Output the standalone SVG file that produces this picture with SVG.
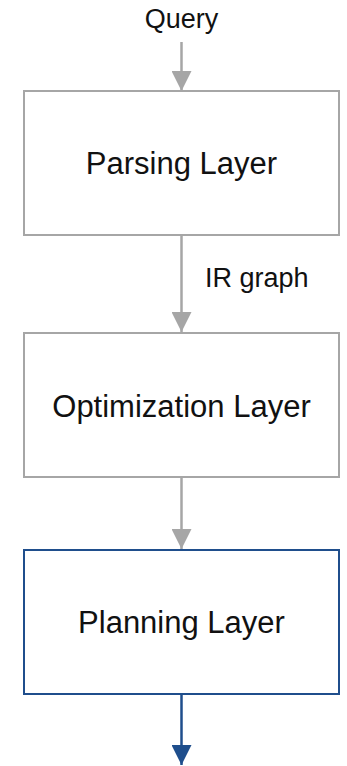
<svg xmlns="http://www.w3.org/2000/svg" width="347" height="766" viewBox="0 0 347 766">
  <style>
    .box { fill: #ffffff; stroke: #a6a6a6; stroke-width: 2; }
    .box.out { stroke: #1f4e8c; }
    .lbl { font-family: "Liberation Sans", Arial, sans-serif; font-size: 31px; fill: #111111; text-anchor: middle; }
    .small { font-family: "Liberation Sans", Arial, sans-serif; font-size: 27px; fill: #111111; }
    .edge { stroke: #a6a6a6; stroke-width: 2.5; fill: none; }
    .edge.out { stroke: #1f4e8c; }
  </style>
  <defs>
    <marker id="headGray" viewBox="0 0 20 20" refX="20" refY="10" markerWidth="20" markerHeight="20" markerUnits="userSpaceOnUse" orient="auto">
      <path d="M0,0 L20,10 L0,20 Z" fill="#a6a6a6"/>
    </marker>
    <marker id="headBlue" viewBox="0 0 20 20" refX="20" refY="10" markerWidth="20" markerHeight="20" markerUnits="userSpaceOnUse" orient="auto">
      <path d="M0,0 L20,10 L0,20 Z" fill="#1f4e8c"/>
    </marker>
  </defs>

  <rect width="347" height="766" fill="#ffffff"/>

  <!-- connectors -->
  <g id="connectors">
    <text class="small" x="181.5" y="28" text-anchor="middle">Query</text>
    <line class="edge" x1="181.5" y1="42" x2="181.5" y2="91" marker-end="url(#headGray)"/>
    <line class="edge" x1="181.5" y1="235" x2="181.5" y2="332" marker-end="url(#headGray)"/>
    <text class="small" x="205" y="287" font-size="28">IR graph</text>
    <line class="edge" x1="181.5" y1="477" x2="181.5" y2="549" marker-end="url(#headGray)"/>
    <line class="edge out" x1="181.5" y1="694" x2="181.5" y2="765" marker-end="url(#headBlue)"/>
  </g>

  <!-- nodes -->
  <g id="parsing">
    <rect class="box" x="24" y="91" width="315" height="144"/>
    <text class="lbl" x="181.5" y="174">Parsing Layer</text>
  </g>
  <g id="optimization">
    <rect class="box" x="24" y="333" width="315" height="144"/>
    <text class="lbl" x="181.5" y="417">Optimization Layer</text>
  </g>
  <g id="planning">
    <rect class="box out" x="24" y="550" width="315" height="144"/>
    <text class="lbl" x="181.5" y="633">Planning Layer</text>
  </g>
</svg>
